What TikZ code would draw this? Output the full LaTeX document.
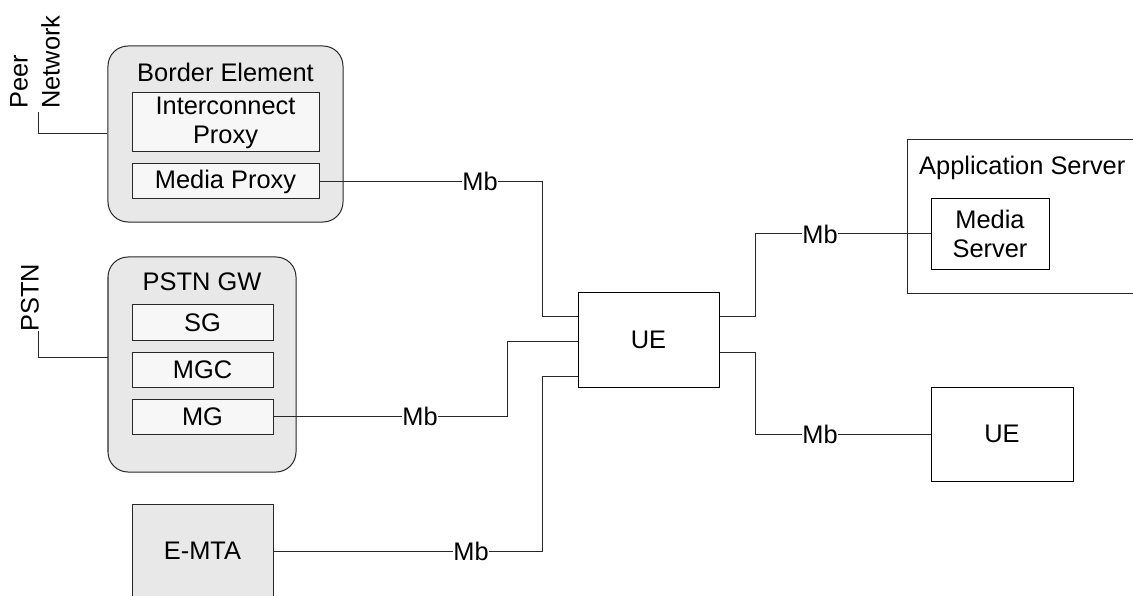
\documentclass[tikz,border=0pt]{standalone}
\usepackage{fontspec}
\setmainfont{Liberation Sans}
\definecolor{outerfill}{RGB}{232,232,232}
\definecolor{innerfill}{RGB}{247,247,247}
\definecolor{linecol}{RGB}{40,40,40}
\begin{document}
\begin{tikzpicture}[x=1bp,y=-1bp,
  every node/.style={font=\fontsize{25.5}{29}\selectfont, inner sep=0pt},
  group/.style={draw=linecol, line width=1bp, fill=outerfill, rounded corners=20bp, minimum width=#1},
  inbox/.style={draw=linecol, line width=1bp, fill=innerfill, align=center},
  plainbox/.style={draw=black, line width=1bp, fill=white, align=center},
  conn/.style={draw=linecol, line width=1bp},
  mblabel/.style={fill=white, inner xsep=0.5bp, inner ysep=1bp},
  vtext/.style={rotate=90, align=left, anchor=south west}
]
\useasboundingbox (0,0) rectangle (1133,596);

% Border element
\node[group=235bp, minimum height=176bp] (be) at (225.5,134) {};
\node (betitle) at (225.5,72) {Border Element};
\node[inbox, minimum width=187bp, minimum height=59bp] (ip) at (225.5,122.5) {Interconnect\\[0bp]Proxy};
\node[inbox, minimum width=187bp, minimum height=35bp] (mp) at (225.5,181.5) {Media Proxy};

% Peer network
\node[vtext] (peer) at (60,109) {Peer\\[3bp]Network};
\coordinate (peerend) at (38,112);
\draw[conn] (peerend) |- (be.west);

% PSTN GW
\node[group=188bp, minimum height=215bp] (gw) at (202,364.5) {};
\node (gwtitle) at (202,282) {PSTN GW};
\node[inbox, minimum width=141bp, minimum height=35bp] (sg) at (202.5,322.5) {SG};
\node[inbox, minimum width=141bp, minimum height=35bp] (mgc) at (202.5,369.5) {MGC};
\node[inbox, minimum width=141bp, minimum height=35bp] (mg) at (202.5,416.5) {MG};

\node[vtext] (pstn) at (39,332) {PSTN};
\coordinate (pstnend) at (38,331);
\draw[conn] (pstnend) |- ([yshift=7.5bp]gw.west);

% E-MTA
\node[draw=linecol, line width=1bp, fill=outerfill, minimum width=141bp, minimum height=94bp] (emta) at (202.5,551) {E-MTA};

% UE (centre)
\node[plainbox, minimum width=141bp, minimum height=94bp] (ue) at (648.5,340) {UE};

% Application server
\node[minimum width=225bp, minimum height=153bp] (as) at (1020.5,216.5) {};
\draw[line width=1bp, draw=linecol] (as.north east) -| (as.south west) -- (as.south east);
\node[anchor=west] (astitle) at (919,168) {Application Server};
\node[plainbox, minimum width=118bp, minimum height=70bp] (ms) at (990,234) {Media\\[0bp]Server};

% UE (right)
\node[plainbox, minimum width=142bp, minimum height=94bp] (ue2) at (1002,434) {UE};

% Connectors
\draw[conn] (mp.east) -| ([xshift=-35bp,yshift=23bp]ue.west) -- ([yshift=23bp]ue.west);
\draw[conn] (mg.east) -| ([xshift=-70bp,yshift=-1bp]ue.west) -- ([yshift=-1bp]ue.west);
\draw[conn] (emta.east) -| ([xshift=-35bp,yshift=-36bp]ue.west) -- ([yshift=-36bp]ue.west);
\draw[conn] ([yshift=23bp]ue.east) -- ([xshift=36bp,yshift=23bp]ue.east) |- (ms.west);
\draw[conn] ([yshift=-12bp]ue.east) -- ([xshift=36bp,yshift=-12bp]ue.east) |- (ue2.west);

% Mb labels
\node[mblabel] (mb1) at (480,181.5) {Mb};
\node[mblabel] (mb2) at (420,416.5) {Mb};
\node[mblabel] (mb3) at (471,551) {Mb};
\node[mblabel] (mb4) at (820,234) {Mb};
\node[mblabel] (mb5) at (820,434) {Mb};
\end{tikzpicture}
\end{document}
